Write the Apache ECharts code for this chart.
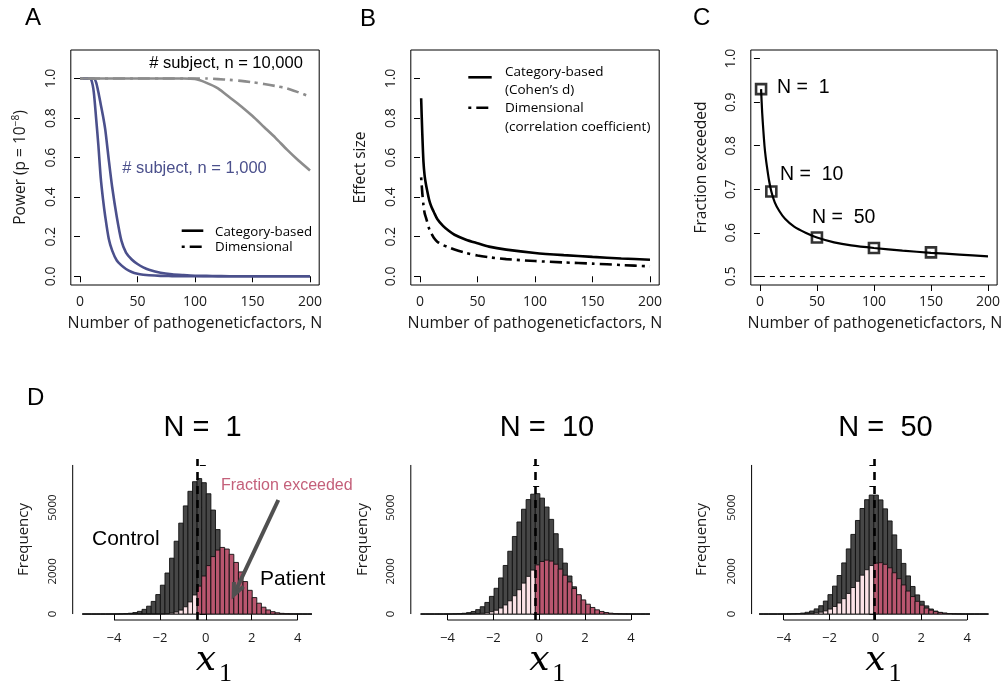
<!DOCTYPE html>
<html><head><meta charset="utf-8">
<script src="https://cdn.jsdelivr.net/npm/echarts@6/dist/echarts.min.js"></script>
<style>html,body{margin:0;padding:0;background:#fff}#c{width:1003px;height:687px}</style>
</head><body><div id="c"></div>
<script>
// ---------- DATA ----------
const xTicksN = [0, 50, 100, 150, 200];
const yTicksAB = [0, 0.2, 0.4, 0.6, 0.8, 1.0];
const yTicksC = [0.5, 0.6, 0.7, 0.8, 0.9, 1.0];
const xTicksD = [-4, -2, 0, 2, 4];
const yTicksD = [0, 1000, 2000, 3000, 4000, 5000, 6000, 7000];
const yLabelsD = [0, 2000, 5000];

// Panel A: power vs number of factors
const aN        = [0, 5, 8, 10, 12, 14, 16, 18, 20, 22, 25, 28, 32, 36, 40, 45, 50, 55, 60, 70, 80, 90, 100, 110, 120, 130, 140, 150, 160, 170, 180, 190, 200];
const aBlueCat  = [1, 1, 1, 0.99, 0.93, 0.80, 0.66, 0.50, 0.39, 0.30, 0.19, 0.13, 0.08, 0.055, 0.037, 0.022, 0.013, 0.008, 0.005, 0.002, 0.001, 0, 0, 0, 0, 0, 0, 0, 0, 0, 0, 0, 0];
const aBlueDim  = [1, 1, 1, 1, 1, 0.98, 0.93, 0.87, 0.81, 0.74, 0.59, 0.45, 0.30, 0.18, 0.12, 0.085, 0.062, 0.045, 0.033, 0.018, 0.01, 0.006, 0.003, 0.002, 0.001, 0, 0, 0, 0, 0, 0, 0, 0];
const aGrayCat  = [1, 1, 1, 1, 1, 1, 1, 1, 1, 1, 1, 1, 1, 1, 1, 1, 1, 1, 1, 1, 1, 1, 0.997, 0.978, 0.95, 0.905, 0.86, 0.81, 0.755, 0.70, 0.64, 0.585, 0.535];
const aGrayDim  = [1, 1, 1, 1, 1, 1, 1, 1, 1, 1, 1, 1, 1, 1, 1, 1, 1, 1, 1, 1, 1, 1, 1, 1, 0.997, 0.993, 0.988, 0.981, 0.972, 0.962, 0.95, 0.93, 0.908];

// Panel B: effect size
const bN     = [1, 2, 3, 4, 5, 6, 8, 10, 12, 15, 20, 25, 30, 40, 50, 60, 75, 100, 125, 150, 175, 200];
const bCohen = [0.90, 0.72, 0.58, 0.51, 0.47, 0.44, 0.385, 0.35, 0.325, 0.29, 0.255, 0.23, 0.21, 0.185, 0.167, 0.15, 0.135, 0.118, 0.107, 0.098, 0.09, 0.084];
const bCorr  = [0.50, 0.42, 0.36, 0.32, 0.30, 0.28, 0.24, 0.215, 0.195, 0.175, 0.158, 0.146, 0.135, 0.118, 0.105, 0.096, 0.087, 0.077, 0.07, 0.064, 0.057, 0.05];

// Panel C: fraction exceeded
const cN     = [1, 2, 3, 4, 5, 6, 8, 10, 13, 17, 22, 30, 40, 50, 65, 80, 100, 125, 150, 175, 200];
const cFrac  = [0.93, 0.875, 0.835, 0.80, 0.775, 0.755, 0.72, 0.695, 0.67, 0.65, 0.632, 0.614, 0.60, 0.589, 0.578, 0.571, 0.565, 0.559, 0.554, 0.55, 0.546];
const cMarkN = [1, 10, 50, 100, 150];
const cMarkV = [0.93, 0.695, 0.589, 0.565, 0.555];
const cBase  = 0.5;

// Panel D: histograms (bin width 0.2)
const binW = 0.2;
const d1Start = -5.38, d1Thr = -0.38;
const d1Control = [0,0,1,0,0,1,2,4,9,19, 37,70,126,220,368,593,915,1354,1926,2622, 3420,4268,5077,5762,6214,6360,6168,5648,4882,3966, 3030,2174,1458,915,535,293,150,71,31,13, 5,2,1,0,0,0,0,0,0,0];
const d1Patient = [0,0,0,0,0,0,0,0,0,0, 0,0,0,0,0,1,3,8,20,46, 96,186,341,570,896,1312,1786,2274,2698,3004, 3128,3052,2804,2423,1977,1525,1114,773,509,321, 193,111,60,32,16,8,4,2,1,1];
const d2Start = -5.17, d2Thr = -0.17;
const d2Control = [0,0,0,1,1,2,4,10,18,36, 67,120,207,343,545,829,1209,1695,2280,2948, 3642,4322,4921,5374,5627,5652,5443,5024,4445,3772, 3068,2391,1786,1279,877,577,364,219,127,70, 37,19,9,4,2,1,1,0,0,0];
const d2Patient = [0,0,0,0,0,0,0,0,1,2, 5,10,19,35,63,109,179,283,428,622, 860,1142,1453,1770,2065,2308,2469,2532,2487,2340, 2110,1823,1508,1197,909,663,462,309,198,122, 72,40,22,12,6,3,1,1,0,1];
const d3Start = -5.07, d3Thr = -0.07;
const d3Control = [1,0,0,0,1,3,6,12,23,44, 81,142,241,390,609,911,1311,1809,2400,3057, 3739,4393,4956,5369,5587,5585,5359,4939,4371,3716, 3033,2377,1790,1294,898,598,383,236,140,79, 43,22,11,5,2,1,0,0,0,0];
const d3Patient = [0,0,0,0,0,0,1,2,4,8, 16,30,53,90,149,235,355,517,722,967, 1245,1539,1826,2081,2277,2391,2411,2335,2171,1938, 1661,1367,1080,820,598,418,281,182,112,67, 38,21,11,6,3,1,1,0,0,1];

// ---------- STYLE ----------
const AXF = 'Open Sans', TXF = 'Liberation Sans';
const BLUE = '#4b508c', GRAY = '#8c8c8c', PINK = '#b9566f', LPINK = '#fce3e7', DARK = '#474747';
const DASHDOT = [3, 5, 12, 5];

const chart = echarts.init(document.getElementById('c'));

const grids = [
  {left: 70.8, top: 50, width: 248.4, height: 235, show: true, borderColor: '#000', borderWidth: 1},
  {left: 410.8, top: 50, width: 248.4, height: 235, show: true, borderColor: '#000', borderWidth: 1},
  {left: 750.8, top: 50, width: 248.4, height: 235, show: true, borderColor: '#000', borderWidth: 1},
  {left: 72.7, top: 459, width: 247.9, height: 161, show: false},
  {left: 410.8, top: 459, width: 247.6, height: 161, show: false},
  {left: 751.6, top: 459, width: 247.6, height: 161, show: false}
];

function mkX(gi, min, max, ticks, fs, margin, fmt) {
  return {type: 'value', gridIndex: gi, min, max, axisLine: {show: false},
    axisTick: {show: true, customValues: ticks, length: 6, lineStyle: {color: '#000', width: 1}},
    axisLabel: {show: true, customValues: ticks, fontFamily: AXF, fontSize: fs, color: '#1a1a1a', margin, formatter: fmt},
    splitLine: {show: false}};
}
function mkY(gi, min, max, ticks, labels, fs, margin, fmt) {
  return {type: 'value', gridIndex: gi, min, max, axisLine: {show: false},
    axisTick: {show: true, customValues: ticks, length: 6, lineStyle: {color: '#000', width: 1}},
    axisLabel: {show: true, customValues: labels, rotate: 90, fontFamily: AXF, fontSize: fs, color: '#1a1a1a', margin, formatter: fmt},
    splitLine: {show: false}};
}
const f1 = v => v.toFixed(1);
const fm = v => String(v).replace('-', '\u2212');
const fi = v => String(Math.round(v));

const xAxes = [
  mkX(0, -8, 208, xTicksN, 14, 10), mkX(1, -8, 208, xTicksN, 14, 10), mkX(2, -8, 208, xTicksN, 14, 10),
  mkX(3, -5.8, 5.0, xTicksD, 13, 12, fm), mkX(4, -5.6, 5.2, xTicksD, 13, 12, fm), mkX(5, -5.4, 5.4, xTicksD, 13, 12, fm)
];
const yAxes = [
  mkY(0, -0.044, 1.144, yTicksAB, yTicksAB, 14, 13, f1), mkY(1, -0.044, 1.144, yTicksAB, yTicksAB, 14, 13, f1),
  mkY(2, 0.48, 1.02, yTicksC, yTicksC, 14, 13, f1),
  mkY(3, -280, 7280, yTicksD, yLabelsD, 11.5, 14, fi), mkY(4, -280, 7280, yTicksD, yLabelsD, 11.5, 14, fi), mkY(5, -280, 7280, yTicksD, yLabelsD, 11.5, 14, fi)
];

function lineS(gi, xs, ys, color, width, type, z) {
  return {type: 'line', xAxisIndex: gi, yAxisIndex: gi, data: xs.map((x, i) => [x, ys[i]]),
    showSymbol: false, symbol: 'none', smooth: 0.25, clip: true, silent: true, z: z || 2,
    lineStyle: {color, width, type, cap: 'butt'}};
}

function histS(gi, start, counts, fillFn, z) {
  return {type: 'custom', xAxisIndex: gi, yAxisIndex: gi, silent: true, clip: false, z,
    data: counts.map((c, i) => [start + i * binW, start + (i + 1) * binW, c]),
    encode: {x: [0, 1], y: 2},
    renderItem(params, api) {
      const x0 = api.value(0), x1 = api.value(1), v = api.value(2);
      const p0 = api.coord([x0, 0]), p1 = api.coord([x1, v]);
      return {type: 'rect', shape: {x: p0[0], y: p1[1], width: p1[0] - p0[0], height: p0[1] - p1[1]},
        style: {fill: fillFn(x0), stroke: '#111', lineWidth: 0.9}};
    }};
}

function axisLinesD(gi, xMin, yMin, thr) {
  return [
    {type: 'line', xAxisIndex: gi, yAxisIndex: gi, data: [[xTicksD[0], yMin], [xTicksD[xTicksD.length - 1], yMin]],
      showSymbol: false, symbol: 'none', clip: false, silent: true, z: 5, lineStyle: {color: '#000', width: 1},
      markLine: {symbol: ['none', 'none'], silent: true, label: {show: false}, animation: false,
        lineStyle: {color: '#000', width: 2.6, type: [8, 6]}, data: [{xAxis: thr}]}},
    {type: 'line', xAxisIndex: gi, yAxisIndex: gi, data: [[xMin, yTicksD[0]], [xMin, yTicksD[yTicksD.length - 1]]],
      showSymbol: false, symbol: 'none', clip: false, silent: true, z: 5, lineStyle: {color: '#000', width: 1}}
  ];
}

const series = [
  lineS(0, aN, aBlueCat, BLUE, 2.6, 'solid', 2),
  lineS(0, aN, aBlueDim, BLUE, 2.6, 'solid', 2),
  lineS(0, aN, aGrayCat, GRAY, 2.6, 'solid', 3),
  lineS(0, aN, aGrayDim, GRAY, 2.6, DASHDOT, 3),
  lineS(1, bN, bCohen, '#000', 2.6, 'solid', 2),
  lineS(1, bN, bCorr, '#000', 2.6, DASHDOT, 2),
  Object.assign(lineS(2, cN, cFrac, '#000', 2.2, 'solid', 2), {
    markLine: {symbol: ['none', 'none'], silent: true, label: {show: false}, animation: false,
      lineStyle: {color: '#000', width: 1, type: [5, 5]},
      data: [[{coord: [xTicksN[0], cBase]}, {coord: [xTicksN[xTicksN.length - 1], cBase]}]]}}),
  {type: 'scatter', xAxisIndex: 2, yAxisIndex: 2, data: cMarkN.map((n, i) => [n, cMarkV[i]]), symbol: 'rect', symbolSize: 10,
    silent: true, z: 4, itemStyle: {color: 'rgba(0,0,0,0)', borderColor: '#000', borderWidth: 2.6}},
  histS(3, d1Start, d1Control, () => DARK, 2),
  histS(3, d1Start, d1Patient, x => (x >= d1Thr - 1e-6 ? PINK : LPINK), 3),
  histS(4, d2Start, d2Control, () => DARK, 2),
  histS(4, d2Start, d2Patient, x => (x >= d2Thr - 1e-6 ? PINK : LPINK), 3),
  histS(5, d3Start, d3Control, () => DARK, 2),
  histS(5, d3Start, d3Patient, x => (x >= d3Thr - 1e-6 ? PINK : LPINK), 3),
  ...axisLinesD(3, -5.8, -280, d1Thr),
  ...axisLinesD(4, -5.6, -280, d2Thr),
  ...axisLinesD(5, -5.4, -280, d3Thr)
];

// ---------- ANNOTATIONS ----------
function T(text, x, y, o) {
  o = o || {};
  const st = {text, fill: o.color || '#000', align: o.align || 'center', verticalAlign: 'middle'};
  if (o.font) { st.font = o.font; }
  else { st.fontSize = o.size || 14; st.fontFamily = o.family || TXF; }
  if (o.rich) st.rich = o.rich;
  return {type: 'text', x, y, rotation: o.rot || 0, silent: true, z: 100, style: st};
}
function L(x1, y1, x2, y2, color, w, dash) {
  return {type: 'line', silent: true, z: 100, shape: {x1, y1, x2, y2}, style: {stroke: color, lineWidth: w, lineDash: dash || null, lineCap: 'butt'}};
}
const R90 = Math.PI / 2;
const XFONT = 'italic 36px "DejaVu Serif", "Liberation Serif", serif';
const SFONT = '26px "Liberation Serif", "DejaVu Serif", serif';
const gfx = [
  T('A', 25, 18.5, {size: 24, align: 'left'}),
  T('B', 360, 19.5, {size: 24, align: 'left'}),
  T('C', 693, 18, {size: 24, align: 'left'}),
  T('D', 27, 398.5, {size: 24, align: 'left'}),
  // panel A
  T('# subject, n = 10,000', 226, 63.5, {size: 16.5}),
  T('# subject, n = 1,000', 194.5, 168, {size: 16.5, color: BLUE}),
  L(181.7, 230.7, 203.3, 230.7, '#000', 2.6),
  L(181.7, 246.7, 203.3, 246.7, '#000', 2.6, DASHDOT),
  T('Category-based', 215, 232, {size: 13.3, family: AXF, align: 'left'}),
  T('Dimensional', 215, 247, {size: 13.3, family: AXF, align: 'left'}),
  T('{a|Power (p = 10}{s|\u22128}{a|)}', 21, 167.5, {rot: R90, rich: {a: {fontSize: 15.5, fontFamily: AXF, fill: '#1a1a1a'}, s: {fontSize: 10, fontFamily: AXF, fill: '#1a1a1a', padding: [0, 0, 10, 0]}}}),
  T('Number of pathogeneticfactors, N', 195, 323, {size: 16, family: AXF, color: '#1a1a1a'}),
  // panel B
  L(468.3, 77.3, 491.7, 77.3, '#000', 2.6),
  L(468.3, 107.7, 491.7, 107.7, '#000', 2.6, DASHDOT),
  T('Category-based', 505, 72, {size: 13.5, family: AXF, align: 'left'}),
  T('(Cohen\u2019s d)', 505, 89.7, {size: 13.5, family: AXF, align: 'left'}),
  T('Dimensional', 505, 108, {size: 13.5, family: AXF, align: 'left'}),
  T('(correlation coefficient)', 505, 126.7, {size: 13.5, family: AXF, align: 'left'}),
  T('Effect size', 361, 167.5, {rot: R90, size: 15.5, family: AXF, color: '#1a1a1a'}),
  T('Number of pathogeneticfactors, N', 535, 323, {size: 16, family: AXF, color: '#1a1a1a'}),
  // panel C
  T('N =  1', 777, 87.5, {size: 19.5, align: 'left'}),
  T('N =  10', 780, 174.5, {size: 19.5, align: 'left'}),
  T('N =  50', 812, 217.5, {size: 19.5, align: 'left'}),
  T('Fraction exceeded', 701.5, 167.5, {rot: R90, size: 15.5, family: AXF, color: '#1a1a1a'}),
  T('Number of pathogeneticfactors, N', 875, 323, {size: 16, family: AXF, color: '#1a1a1a'}),
  // panel D
  T('N =  1', 202.5, 427.5, {size: 29}),
  T('N =  10', 547, 427.5, {size: 29}),
  T('N =  50', 885.5, 427.5, {size: 29}),
  T('Frequency', 23.5, 539.5, {rot: R90, size: 15, family: AXF, color: '#1a1a1a'}),
  T('Frequency', 363, 539.5, {rot: R90, size: 15, family: AXF, color: '#1a1a1a'}),
  T('Frequency', 701.5, 539.5, {rot: R90, size: 15, family: AXF, color: '#1a1a1a'}),
  T('x', 206, 661, {font: XFONT}),
  T('1', 219, 674, {font: SFONT, align: 'left'}),
  T('x', 539.3, 661, {font: XFONT}),
  T('1', 552.3, 674, {font: SFONT, align: 'left'}),
  T('x', 875.5, 661, {font: XFONT}),
  T('1', 888.5, 674, {font: SFONT, align: 'left'}),
  T('Control', 92, 539.5, {size: 21, align: 'left'}),
  T('Patient', 260, 579.5, {size: 21, align: 'left'}),
  T('Fraction exceeded', 221, 486, {size: 16, align: 'left', color: '#c4607a'})
];
// arrow
(function () {
  const sx = 278.3, sy = 500, ex = 233.7, ey = 595;
  const ang = Math.atan2(ey - sy, ex - sx), hl = 13, ha = 0.42;
  gfx.push(L(sx, sy, ex - Math.cos(ang) * 2, ey - Math.sin(ang) * 2, '#505050', 4));
  gfx.push({type: 'polyline', silent: true, z: 100, shape: {points: [
    [ex - hl * Math.cos(ang - ha), ey - hl * Math.sin(ang - ha)], [ex, ey],
    [ex - hl * Math.cos(ang + ha), ey - hl * Math.sin(ang + ha)]]},
    style: {stroke: '#505050', lineWidth: 4, fill: null, lineJoin: 'miter'}});
})();

chart.setOption({
  animation: false,
  backgroundColor: '#fff',
  grid: grids,
  xAxis: xAxes,
  yAxis: yAxes,
  series,
  graphic: gfx
});
</script>
</body></html>
